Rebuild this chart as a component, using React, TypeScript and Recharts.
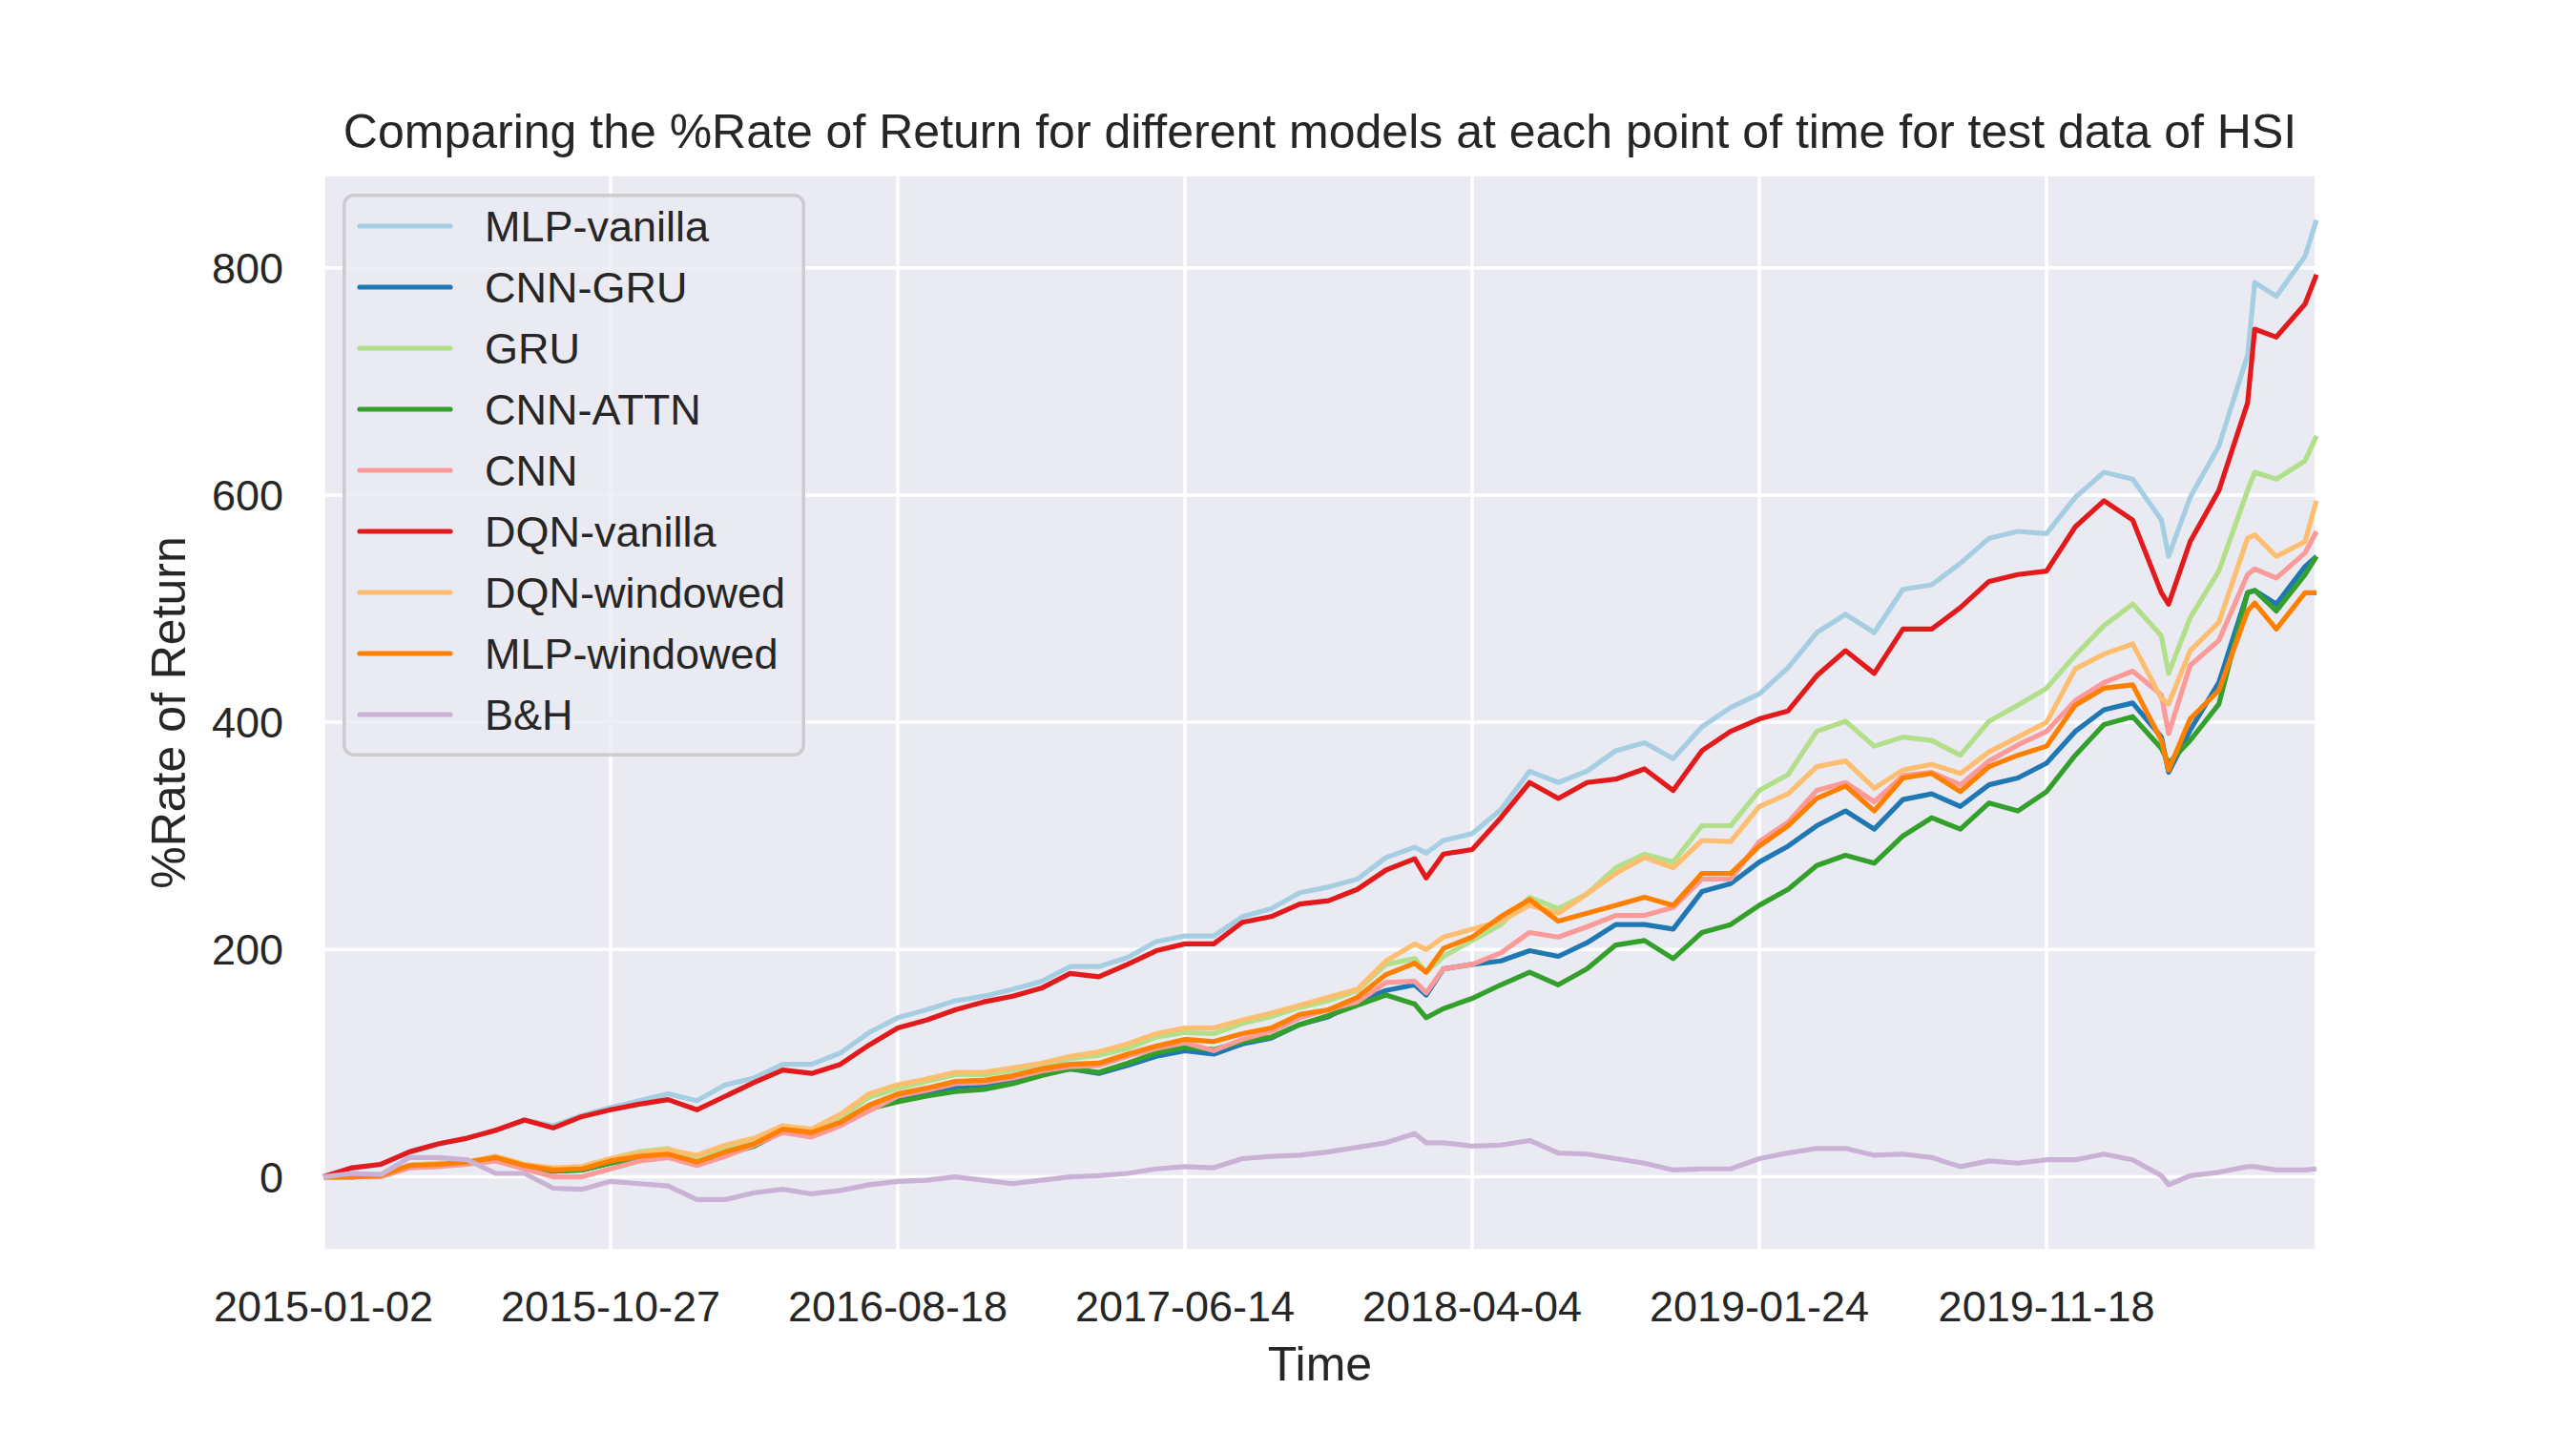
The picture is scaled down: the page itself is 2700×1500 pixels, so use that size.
import React from 'react';
import { LineChart, Line, XAxis, YAxis, CartesianGrid, Legend } from 'recharts';

// trading-day index of each sample
const idx = [0, 20, 40, 60, 80, 100, 120, 140, 160, 180, 200, 220, 240, 260, 280, 300, 320, 340, 360, 380, 400, 420, 440, 460, 480, 500, 520, 540, 560, 580, 600, 620, 640, 660, 680, 700, 720, 740, 760, 768, 780, 800, 820, 840, 860, 880, 900, 920, 940, 960, 980, 1000, 1020, 1040, 1060, 1080, 1100, 1120, 1140, 1160, 1180, 1200, 1220, 1240, 1260, 1280, 1285, 1300, 1320, 1340, 1345, 1360, 1380, 1388];

const tickIdx = [0, 200, 400, 600, 800, 1000, 1200];
const tickDates = ['2015-01-02', '2015-10-27', '2016-08-18', '2017-06-14', '2018-04-04', '2019-01-24', '2019-11-18'];
const yTicks = [0, 200, 400, 600, 800];

const mlpVanilla = [0, 8, 11, 22, 29, 34, 41, 50, 45, 54, 61, 67, 73, 67, 81, 87, 99, 99, 109, 127, 140, 147, 155, 159, 165, 172, 185, 185, 193, 207, 212, 212, 229, 236, 250, 255, 262, 281, 290, 285, 296, 302, 323, 357, 347, 357, 375, 382, 368, 396, 413, 425, 448, 479, 495, 479, 517, 521, 540, 562, 568, 566, 598, 620, 614, 578, 546, 598, 643, 723, 787, 775, 810, 842];
const cnnGru = [0, 0, 1, 10, 11, 12, 16, 9, 5, 6, 12, 17, 19, 12, 21, 28, 41, 37, 46, 60, 68, 73, 79, 81, 85, 91, 95, 91, 98, 106, 111, 108, 117, 122, 134, 141, 154, 164, 169, 160, 183, 187, 190, 199, 194, 206, 222, 222, 218, 251, 258, 277, 291, 309, 322, 306, 332, 337, 326, 345, 351, 364, 392, 411, 417, 387, 356, 393, 435, 514, 516, 504, 537, 546];
const gru = [0, 0, 1, 10, 12, 13, 18, 11, 7, 9, 16, 22, 25, 15, 26, 33, 45, 41, 52, 70, 78, 84, 90, 90, 94, 98, 104, 107, 113, 123, 127, 126, 135, 141, 149, 155, 164, 187, 192, 180, 194, 208, 222, 246, 236, 249, 272, 284, 277, 309, 309, 340, 354, 392, 401, 379, 387, 384, 371, 401, 415, 430, 459, 485, 504, 476, 443, 492, 533, 604, 620, 614, 630, 652];
const cnnAttn = [0, 0, 1, 10, 11, 12, 16, 9, 5, 6, 12, 17, 19, 12, 20, 27, 40, 36, 46, 60, 66, 71, 75, 77, 82, 89, 95, 92, 100, 109, 114, 112, 119, 123, 134, 142, 151, 160, 152, 140, 148, 157, 169, 180, 169, 183, 204, 208, 192, 215, 222, 239, 253, 274, 283, 276, 300, 316, 306, 329, 322, 339, 371, 398, 405, 377, 364, 384, 416, 514, 516, 498, 530, 546];
const cnn = [0, 0, 0, 8, 9, 11, 14, 7, 0, 0, 7, 14, 17, 10, 18, 28, 39, 35, 45, 58, 71, 76, 82, 83, 87, 93, 97, 98, 106, 113, 118, 111, 121, 128, 140, 147, 154, 171, 172, 162, 183, 187, 197, 215, 211, 220, 230, 230, 237, 262, 262, 295, 312, 340, 347, 330, 353, 356, 345, 366, 380, 392, 419, 435, 445, 424, 390, 450, 472, 530, 535, 527, 549, 568];
const dqnVanilla = [0, 8, 11, 22, 29, 34, 41, 50, 43, 53, 59, 64, 68, 59, 71, 83, 94, 91, 99, 116, 131, 138, 147, 154, 159, 166, 179, 176, 187, 199, 205, 205, 224, 229, 240, 243, 253, 270, 280, 263, 284, 288, 316, 347, 333, 347, 350, 359, 340, 375, 392, 403, 410, 441, 463, 443, 482, 482, 501, 524, 530, 533, 572, 595, 578, 514, 504, 559, 604, 681, 746, 739, 768, 794];
const dqnWindowed = [0, 0, 1, 10, 12, 13, 18, 11, 8, 9, 16, 21, 24, 19, 28, 34, 45, 42, 55, 73, 81, 86, 92, 92, 96, 100, 106, 110, 117, 126, 131, 131, 138, 144, 151, 158, 165, 190, 205, 200, 211, 218, 225, 239, 232, 249, 267, 281, 272, 296, 295, 326, 337, 361, 366, 342, 358, 363, 355, 374, 387, 400, 447, 460, 469, 421, 416, 463, 488, 562, 565, 546, 559, 595];
const mlpWindowed = [0, 0, 1, 10, 11, 13, 17, 10, 6, 7, 14, 18, 20, 13, 22, 29, 42, 39, 48, 63, 73, 78, 84, 85, 89, 95, 99, 100, 108, 115, 121, 119, 126, 131, 143, 147, 158, 178, 188, 180, 201, 211, 229, 244, 225, 232, 239, 246, 239, 267, 267, 291, 309, 333, 344, 322, 351, 355, 339, 361, 371, 379, 415, 430, 433, 384, 358, 403, 428, 498, 505, 482, 514, 514];
const buyHold = [0, 3, 2, 17, 17, 15, 3, 3, -10, -11, -4, -6, -8, -20, -20, -14, -11, -15, -12, -7, -4, -3, 0, -3, -6, -3, 0, 1, 3, 7, 9, 8, 16, 18, 19, 22, 26, 30, 38, 30, 30, 27, 28, 32, 21, 20, 16, 12, 6, 7, 7, 16, 21, 25, 25, 19, 20, 17, 9, 14, 12, 15, 15, 20, 15, 1, -7, 1, 4, 9, 9, 6, 6, 7];

const series = [
  { key: 'mlpVanilla', name: 'MLP-vanilla', color: '#a6cee3', values: mlpVanilla },
  { key: 'cnnGru', name: 'CNN-GRU', color: '#1f78b4', values: cnnGru },
  { key: 'gru', name: 'GRU', color: '#b2df8a', values: gru },
  { key: 'cnnAttn', name: 'CNN-ATTN', color: '#33a02c', values: cnnAttn },
  { key: 'cnn', name: 'CNN', color: '#fb9a99', values: cnn },
  { key: 'dqnVanilla', name: 'DQN-vanilla', color: '#e31a1c', values: dqnVanilla },
  { key: 'dqnWindowed', name: 'DQN-windowed', color: '#fdbf6f', values: dqnWindowed },
  { key: 'mlpWindowed', name: 'MLP-windowed', color: '#ff7f00', values: mlpWindowed },
  { key: 'bh', name: 'B&H', color: '#cab2d6', values: buyHold },
];

const data = idx.map((t, i) => {
  const row: Record<string, number> = { t };
  series.forEach(s => { row[s.key] = s.values[i]; });
  return row;
});

const font = '"Liberation Sans", Arial, sans-serif';
const ink = '#262626';

const LegendBox = () => (
  <svg width={485} height={590}>
    <rect x={1.75} y={1.75} width={481.5} height={586.5} rx={10} fill="rgba(234,234,242,0.8)" stroke="#cccccc" strokeWidth={3.5} />
    {series.map((s, i) => (
      <g key={s.key}>
        <line x1={18} x2={113} y1={34 + 64 * i} y2={34 + 64 * i} stroke={s.color} strokeWidth={5.2} strokeLinecap="round" />
        <text x={149} y={34 + 64 * i} dy="0.36em" fontSize={45} fill={ink} fontFamily={font}>{s.name}</text>
      </g>
    ))}
  </svg>
);

export default function App() {
  return (
    <div style={{ position: 'absolute', left: 0, top: 0, width: 2700, height: 1500, background: '#fff', fontFamily: font, color: ink }}>
      <div style={{ position: 'absolute', left: 339, width: 2089, top: 113, textAlign: 'center', fontSize: 50, lineHeight: 1, whiteSpace: 'nowrap' }}>
        Comparing the %Rate of Return for different models at each point of time for test data of HSI
      </div>
      <LineChart width={2700} height={1500} data={data} margin={{ top: 183, right: 272, bottom: 89, left: 239 }}>
        <CartesianGrid fill="#eaeaf2" stroke="#ffffff" strokeWidth={3.5} />
        <XAxis
          dataKey="t"
          type="number"
          domain={[0, 1388]}
          ticks={tickIdx}
          interval={0}
          tickFormatter={(v: number) => tickDates[tickIdx.indexOf(v)]}
          height={100}
          tickSize={0}
          tickMargin={42}
          axisLine={false}
          tick={{ fontSize: 45, fill: ink, fontFamily: font }}
        />
        <YAxis
          domain={[-65, 882]}
          ticks={yTicks}
          interval={0}
          width={100}
          tickSize={0}
          tickMargin={42}
          axisLine={false}
          tick={{ fontSize: 45, fill: ink, fontFamily: font }}
        />
        <Legend
          layout="vertical"
          align="center"
          verticalAlign="middle"
          content={() => <LegendBox />}
          wrapperStyle={{ left: 359, top: 203, width: 485, height: 590 }}
        />
        {series.map(s => (
          <Line
            key={s.key}
            dataKey={s.key}
            name={s.name}
            type="linear"
            stroke={s.color}
            strokeWidth={5.2}
            strokeLinejoin="round"
            dot={false}
            activeDot={false}
            isAnimationActive={false}
          />
        ))}
      </LineChart>
      <div style={{ position: 'absolute', left: 339, width: 2089, top: 1405, textAlign: 'center', fontSize: 50, lineHeight: 1 }}>
        Time
      </div>
      <div style={{ position: 'absolute', left: 177, top: 747, transform: 'translate(-50%, -50%) rotate(-90deg)', fontSize: 50, lineHeight: 1, whiteSpace: 'nowrap' }}>
        %Rate of Return
      </div>
    </div>
  );
}
